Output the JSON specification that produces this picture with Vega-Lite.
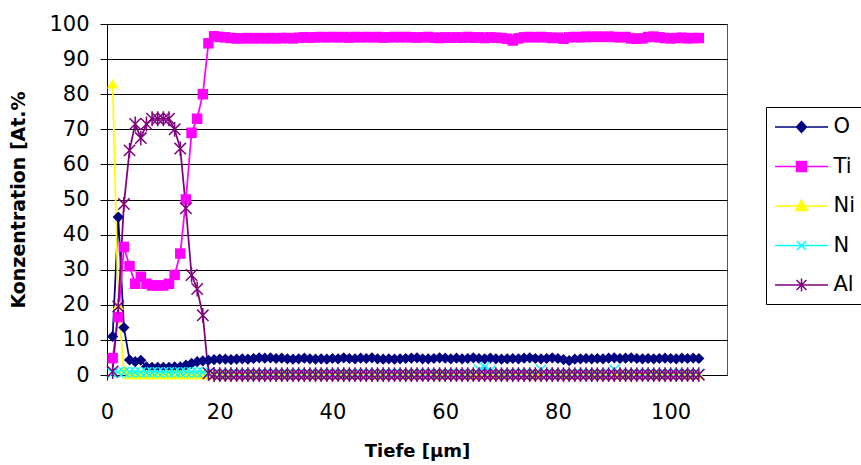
{
"$schema":"https://vega.github.io/schema/vega-lite/v6.json",
"width":620,"height":351,"autosize":"none",
"padding":{"left":107,"top":24,"right":134,"bottom":90},
"background":"white",
"config":{"view":{"stroke":"#555","strokeWidth":1},"font":"DejaVu Sans"},
"datasets":{"d":[
{"s":"O","x":1,"y":11},{"s":"O","x":2,"y":45},{"s":"O","x":3,"y":13.5},{"s":"O","x":4,"y":4.3},{"s":"O","x":5,"y":3.8},{"s":"O","x":6,"y":4.2},{"s":"O","x":7,"y":2.3},{"s":"O","x":8,"y":2.2},{"s":"O","x":9,"y":2.2},{"s":"O","x":10,"y":2.2},{"s":"O","x":11,"y":2.2},{"s":"O","x":12,"y":2.3},{"s":"O","x":13,"y":2.3},{"s":"O","x":14,"y":2.8},{"s":"O","x":15,"y":3.3},{"s":"O","x":16,"y":3.8},{"s":"O","x":17,"y":4.0},{"s":"O","x":18,"y":4.2},{"s":"O","x":19,"y":4.4},{"s":"O","x":20,"y":4.5},
{"s":"O","x":21,"y":4.5},{"s":"O","x":22,"y":4.4},{"s":"O","x":23,"y":4.5},{"s":"O","x":24,"y":4.6},{"s":"O","x":25,"y":4.5},{"s":"O","x":26,"y":4.7},{"s":"O","x":27,"y":4.9},{"s":"O","x":28,"y":4.8},{"s":"O","x":29,"y":4.9},{"s":"O","x":30,"y":4.7},{"s":"O","x":31,"y":4.8},{"s":"O","x":32,"y":4.6},{"s":"O","x":33,"y":4.5},{"s":"O","x":34,"y":4.6},{"s":"O","x":35,"y":4.8},{"s":"O","x":36,"y":4.6},{"s":"O","x":37,"y":4.5},{"s":"O","x":38,"y":4.6},{"s":"O","x":39,"y":4.5},{"s":"O","x":40,"y":4.7},
{"s":"O","x":41,"y":4.6},{"s":"O","x":42,"y":4.9},{"s":"O","x":43,"y":4.7},{"s":"O","x":44,"y":4.6},{"s":"O","x":45,"y":4.8},{"s":"O","x":46,"y":4.7},{"s":"O","x":47,"y":4.9},{"s":"O","x":48,"y":4.6},{"s":"O","x":49,"y":4.5},{"s":"O","x":50,"y":4.6},{"s":"O","x":51,"y":4.5},{"s":"O","x":52,"y":4.6},{"s":"O","x":53,"y":4.7},{"s":"O","x":54,"y":4.8},{"s":"O","x":55,"y":4.9},{"s":"O","x":56,"y":4.6},{"s":"O","x":57,"y":4.6},{"s":"O","x":58,"y":4.7},{"s":"O","x":59,"y":4.9},{"s":"O","x":60,"y":4.8},
{"s":"O","x":61,"y":4.6},{"s":"O","x":62,"y":4.8},{"s":"O","x":63,"y":4.6},{"s":"O","x":64,"y":4.7},{"s":"O","x":65,"y":4.9},{"s":"O","x":66,"y":4.7},{"s":"O","x":67,"y":4.6},{"s":"O","x":68,"y":4.8},{"s":"O","x":69,"y":4.6},{"s":"O","x":70,"y":4.5},{"s":"O","x":71,"y":4.6},{"s":"O","x":72,"y":4.7},{"s":"O","x":73,"y":4.6},{"s":"O","x":74,"y":4.8},{"s":"O","x":75,"y":4.9},{"s":"O","x":76,"y":4.7},{"s":"O","x":77,"y":4.6},{"s":"O","x":78,"y":4.7},{"s":"O","x":79,"y":4.9},{"s":"O","x":80,"y":4.7},
{"s":"O","x":81,"y":4.4},{"s":"O","x":82,"y":4.1},{"s":"O","x":83,"y":4.5},{"s":"O","x":84,"y":4.6},{"s":"O","x":85,"y":4.7},{"s":"O","x":86,"y":4.6},{"s":"O","x":87,"y":4.7},{"s":"O","x":88,"y":4.6},{"s":"O","x":89,"y":4.8},{"s":"O","x":90,"y":4.9},{"s":"O","x":91,"y":4.7},{"s":"O","x":92,"y":4.8},{"s":"O","x":93,"y":4.9},{"s":"O","x":94,"y":4.7},{"s":"O","x":95,"y":4.6},{"s":"O","x":96,"y":4.7},{"s":"O","x":97,"y":4.6},{"s":"O","x":98,"y":4.7},{"s":"O","x":99,"y":4.8},{"s":"O","x":100,"y":4.7},
{"s":"O","x":101,"y":4.6},{"s":"O","x":102,"y":4.8},{"s":"O","x":103,"y":4.7},{"s":"O","x":104,"y":4.8},{"s":"O","x":105,"y":4.7},
{"s":"Ti","x":1,"y":4.8},{"s":"Ti","x":2,"y":16.5},{"s":"Ti","x":3,"y":36.5},{"s":"Ti","x":4,"y":31},{"s":"Ti","x":5,"y":26},{"s":"Ti","x":6,"y":28},{"s":"Ti","x":7,"y":26},{"s":"Ti","x":8,"y":25.5},{"s":"Ti","x":9,"y":25.5},{"s":"Ti","x":10,"y":25.5},{"s":"Ti","x":11,"y":26},{"s":"Ti","x":12,"y":28.5},{"s":"Ti","x":13,"y":34.6},{"s":"Ti","x":14,"y":50},{"s":"Ti","x":15,"y":69},{"s":"Ti","x":16,"y":73},{"s":"Ti","x":17,"y":80},{"s":"Ti","x":18,"y":94.5},{"s":"Ti","x":19,"y":96.5},{"s":"Ti","x":20,"y":96.3},
{"s":"Ti","x":21,"y":96.2},{"s":"Ti","x":22,"y":96},{"s":"Ti","x":23,"y":95.9},{"s":"Ti","x":24,"y":95.9},{"s":"Ti","x":25,"y":96},{"s":"Ti","x":26,"y":95.9},{"s":"Ti","x":27,"y":96},{"s":"Ti","x":28,"y":95.9},{"s":"Ti","x":29,"y":96},{"s":"Ti","x":30,"y":95.9},{"s":"Ti","x":31,"y":96},{"s":"Ti","x":32,"y":96},{"s":"Ti","x":33,"y":95.9},{"s":"Ti","x":34,"y":96.1},{"s":"Ti","x":35,"y":96.2},{"s":"Ti","x":36,"y":96.1},{"s":"Ti","x":37,"y":96.2},{"s":"Ti","x":38,"y":96.3},{"s":"Ti","x":39,"y":96.2},{"s":"Ti","x":40,"y":96.3},
{"s":"Ti","x":41,"y":96.2},{"s":"Ti","x":42,"y":96.3},{"s":"Ti","x":43,"y":96.1},{"s":"Ti","x":44,"y":96.3},{"s":"Ti","x":45,"y":96.2},{"s":"Ti","x":46,"y":96.3},{"s":"Ti","x":47,"y":96.2},{"s":"Ti","x":48,"y":96.3},{"s":"Ti","x":49,"y":96.1},{"s":"Ti","x":50,"y":96.2},{"s":"Ti","x":51,"y":96.3},{"s":"Ti","x":52,"y":96.2},{"s":"Ti","x":53,"y":96.3},{"s":"Ti","x":54,"y":96.2},{"s":"Ti","x":55,"y":96.1},{"s":"Ti","x":56,"y":96.2},{"s":"Ti","x":57,"y":96.3},{"s":"Ti","x":58,"y":96.1},{"s":"Ti","x":59,"y":96},{"s":"Ti","x":60,"y":96.2},
{"s":"Ti","x":61,"y":96.1},{"s":"Ti","x":62,"y":96.2},{"s":"Ti","x":63,"y":96.1},{"s":"Ti","x":64,"y":96.3},{"s":"Ti","x":65,"y":96.1},{"s":"Ti","x":66,"y":96.2},{"s":"Ti","x":67,"y":96},{"s":"Ti","x":68,"y":96.2},{"s":"Ti","x":69,"y":96.1},{"s":"Ti","x":70,"y":96},{"s":"Ti","x":71,"y":95.8},{"s":"Ti","x":72,"y":95.3},{"s":"Ti","x":73,"y":95.9},{"s":"Ti","x":74,"y":96.2},{"s":"Ti","x":75,"y":96.3},{"s":"Ti","x":76,"y":96.2},{"s":"Ti","x":77,"y":96.3},{"s":"Ti","x":78,"y":96.2},{"s":"Ti","x":79,"y":96},{"s":"Ti","x":80,"y":96.1},
{"s":"Ti","x":81,"y":95.8},{"s":"Ti","x":82,"y":96.2},{"s":"Ti","x":83,"y":96.3},{"s":"Ti","x":84,"y":96.2},{"s":"Ti","x":85,"y":96.4},{"s":"Ti","x":86,"y":96.3},{"s":"Ti","x":87,"y":96.4},{"s":"Ti","x":88,"y":96.3},{"s":"Ti","x":89,"y":96.4},{"s":"Ti","x":90,"y":96.3},{"s":"Ti","x":91,"y":96.2},{"s":"Ti","x":92,"y":96.3},{"s":"Ti","x":93,"y":95.9},{"s":"Ti","x":94,"y":95.8},{"s":"Ti","x":95,"y":95.9},{"s":"Ti","x":96,"y":96.3},{"s":"Ti","x":97,"y":96.4},{"s":"Ti","x":98,"y":96.2},{"s":"Ti","x":99,"y":96},{"s":"Ti","x":100,"y":95.9},
{"s":"Ti","x":101,"y":96},{"s":"Ti","x":102,"y":96.1},{"s":"Ti","x":103,"y":95.9},{"s":"Ti","x":104,"y":96},{"s":"Ti","x":105,"y":96},
{"s":"Ni","x":1,"y":83},{"s":"Ni","x":2,"y":20},{"s":"Ni","x":3,"y":1.5},{"s":"Ni","x":4,"y":0.2},{"s":"Ni","x":5,"y":0.2},{"s":"Ni","x":6,"y":0.2},{"s":"Ni","x":7,"y":0.2},{"s":"Ni","x":8,"y":0.2},{"s":"Ni","x":9,"y":0.2},{"s":"Ni","x":10,"y":0.2},{"s":"Ni","x":11,"y":0.2},{"s":"Ni","x":12,"y":0.2},{"s":"Ni","x":13,"y":0.2},{"s":"Ni","x":14,"y":0.2},{"s":"Ni","x":15,"y":0.2},{"s":"Ni","x":16,"y":0.2},{"s":"Ni","x":17,"y":0.2},{"s":"Ni","x":18,"y":0.2},{"s":"Ni","x":19,"y":0.2},{"s":"Ni","x":20,"y":0.2},
{"s":"Ni","x":21,"y":0.2},{"s":"Ni","x":22,"y":0.2},{"s":"Ni","x":23,"y":0.2},{"s":"Ni","x":24,"y":0.2},{"s":"Ni","x":25,"y":0.2},{"s":"Ni","x":26,"y":0.2},{"s":"Ni","x":27,"y":0.2},{"s":"Ni","x":28,"y":0.2},{"s":"Ni","x":29,"y":0.2},{"s":"Ni","x":30,"y":0.2},{"s":"Ni","x":31,"y":0.2},{"s":"Ni","x":32,"y":0.2},{"s":"Ni","x":33,"y":0.2},{"s":"Ni","x":34,"y":0.2},{"s":"Ni","x":35,"y":0.2},{"s":"Ni","x":36,"y":0.2},{"s":"Ni","x":37,"y":0.2},{"s":"Ni","x":38,"y":0.2},{"s":"Ni","x":39,"y":0.2},{"s":"Ni","x":40,"y":0.2},
{"s":"Ni","x":41,"y":0.2},{"s":"Ni","x":42,"y":0.2},{"s":"Ni","x":43,"y":0.2},{"s":"Ni","x":44,"y":0.2},{"s":"Ni","x":45,"y":0.2},{"s":"Ni","x":46,"y":0.2},{"s":"Ni","x":47,"y":0.2},{"s":"Ni","x":48,"y":0.2},{"s":"Ni","x":49,"y":0.2},{"s":"Ni","x":50,"y":0.2},{"s":"Ni","x":51,"y":0.2},{"s":"Ni","x":52,"y":0.2},{"s":"Ni","x":53,"y":0.2},{"s":"Ni","x":54,"y":0.2},{"s":"Ni","x":55,"y":0.2},{"s":"Ni","x":56,"y":0.2},{"s":"Ni","x":57,"y":0.2},{"s":"Ni","x":58,"y":0.2},{"s":"Ni","x":59,"y":0.2},{"s":"Ni","x":60,"y":0.2},
{"s":"Ni","x":61,"y":0.2},{"s":"Ni","x":62,"y":0.2},{"s":"Ni","x":63,"y":0.2},{"s":"Ni","x":64,"y":0.2},{"s":"Ni","x":65,"y":0.2},{"s":"Ni","x":66,"y":0.2},{"s":"Ni","x":67,"y":0.2},{"s":"Ni","x":68,"y":0.2},{"s":"Ni","x":69,"y":0.2},{"s":"Ni","x":70,"y":0.2},{"s":"Ni","x":71,"y":0.2},{"s":"Ni","x":72,"y":0.2},{"s":"Ni","x":73,"y":0.2},{"s":"Ni","x":74,"y":0.2},{"s":"Ni","x":75,"y":0.2},{"s":"Ni","x":76,"y":0.2},{"s":"Ni","x":77,"y":0.2},{"s":"Ni","x":78,"y":0.2},{"s":"Ni","x":79,"y":0.2},{"s":"Ni","x":80,"y":0.2},
{"s":"Ni","x":81,"y":0.2},{"s":"Ni","x":82,"y":0.2},{"s":"Ni","x":83,"y":0.2},{"s":"Ni","x":84,"y":0.2},{"s":"Ni","x":85,"y":0.2},{"s":"Ni","x":86,"y":0.2},{"s":"Ni","x":87,"y":0.2},{"s":"Ni","x":88,"y":0.2},{"s":"Ni","x":89,"y":0.2},{"s":"Ni","x":90,"y":0.2},{"s":"Ni","x":91,"y":0.2},{"s":"Ni","x":92,"y":0.2},{"s":"Ni","x":93,"y":0.2},{"s":"Ni","x":94,"y":0.2},{"s":"Ni","x":95,"y":0.2},{"s":"Ni","x":96,"y":0.2},{"s":"Ni","x":97,"y":0.2},{"s":"Ni","x":98,"y":0.2},{"s":"Ni","x":99,"y":0.2},{"s":"Ni","x":100,"y":0.2},
{"s":"Ni","x":101,"y":0.2},{"s":"Ni","x":102,"y":0.2},{"s":"Ni","x":103,"y":0.2},{"s":"Ni","x":104,"y":0.2},{"s":"Ni","x":105,"y":0.2},
{"s":"N","x":1,"y":0.5},{"s":"N","x":2,"y":0.8},{"s":"N","x":3,"y":0.8},{"s":"N","x":4,"y":0.8},{"s":"N","x":5,"y":0.8},{"s":"N","x":6,"y":0.8},{"s":"N","x":7,"y":0.8},{"s":"N","x":8,"y":0.8},{"s":"N","x":9,"y":0.8},{"s":"N","x":10,"y":0.8},{"s":"N","x":11,"y":0.8},{"s":"N","x":12,"y":0.8},{"s":"N","x":13,"y":0.8},{"s":"N","x":14,"y":0.8},{"s":"N","x":15,"y":0.8},{"s":"N","x":16,"y":0.8},{"s":"N","x":17,"y":0.8},{"s":"N","x":18,"y":0.6},{"s":"N","x":19,"y":0.3},{"s":"N","x":20,"y":0.3},
{"s":"N","x":21,"y":0.3},{"s":"N","x":22,"y":0.3},{"s":"N","x":23,"y":0.3},{"s":"N","x":24,"y":0.3},{"s":"N","x":25,"y":0.3},{"s":"N","x":26,"y":0.3},{"s":"N","x":27,"y":0.3},{"s":"N","x":28,"y":0.3},{"s":"N","x":29,"y":0.3},{"s":"N","x":30,"y":0.3},{"s":"N","x":31,"y":0.3},{"s":"N","x":32,"y":0.3},{"s":"N","x":33,"y":0.3},{"s":"N","x":34,"y":0.3},{"s":"N","x":35,"y":0.3},{"s":"N","x":36,"y":0.3},{"s":"N","x":37,"y":0.3},{"s":"N","x":38,"y":0.3},{"s":"N","x":39,"y":0.3},{"s":"N","x":40,"y":0.3},
{"s":"N","x":41,"y":0.3},{"s":"N","x":42,"y":0.3},{"s":"N","x":43,"y":0.3},{"s":"N","x":44,"y":0.3},{"s":"N","x":45,"y":0.3},{"s":"N","x":46,"y":0.3},{"s":"N","x":47,"y":0.3},{"s":"N","x":48,"y":0.3},{"s":"N","x":49,"y":0.3},{"s":"N","x":50,"y":0.3},{"s":"N","x":51,"y":0.3},{"s":"N","x":52,"y":0.3},{"s":"N","x":53,"y":0.3},{"s":"N","x":54,"y":0.3},{"s":"N","x":55,"y":0.3},{"s":"N","x":56,"y":0.3},{"s":"N","x":57,"y":0.3},{"s":"N","x":58,"y":0.3},{"s":"N","x":59,"y":0.3},{"s":"N","x":60,"y":0.3},
{"s":"N","x":61,"y":0.3},{"s":"N","x":62,"y":0.3},{"s":"N","x":63,"y":0.3},{"s":"N","x":64,"y":0.3},{"s":"N","x":65,"y":0.3},{"s":"N","x":66,"y":1.5},{"s":"N","x":67,"y":2.3},{"s":"N","x":68,"y":1.2},{"s":"N","x":69,"y":0.3},{"s":"N","x":70,"y":0.3},{"s":"N","x":71,"y":0.3},{"s":"N","x":72,"y":0.3},{"s":"N","x":73,"y":0.3},{"s":"N","x":74,"y":0.3},{"s":"N","x":75,"y":0.3},{"s":"N","x":76,"y":0.3},{"s":"N","x":77,"y":1.5},{"s":"N","x":78,"y":0.3},{"s":"N","x":79,"y":0.3},{"s":"N","x":80,"y":0.3},
{"s":"N","x":81,"y":0.3},{"s":"N","x":82,"y":0.3},{"s":"N","x":83,"y":0.3},{"s":"N","x":84,"y":0.3},{"s":"N","x":85,"y":0.3},{"s":"N","x":86,"y":0.3},{"s":"N","x":87,"y":0.3},{"s":"N","x":88,"y":0.3},{"s":"N","x":89,"y":0.3},{"s":"N","x":90,"y":1.5},{"s":"N","x":91,"y":0.3},{"s":"N","x":92,"y":0.3},{"s":"N","x":93,"y":0.3},{"s":"N","x":94,"y":0.3},{"s":"N","x":95,"y":0.3},{"s":"N","x":96,"y":0.3},{"s":"N","x":97,"y":0.3},{"s":"N","x":98,"y":0.3},{"s":"N","x":99,"y":0.3},{"s":"N","x":100,"y":0.3},
{"s":"N","x":101,"y":0.3},{"s":"N","x":102,"y":0.3},{"s":"N","x":103,"y":0.3},{"s":"N","x":104,"y":0.3},{"s":"N","x":105,"y":0.3},
{"s":"Al","x":1,"y":1},{"s":"Al","x":2,"y":19.5},{"s":"Al","x":3,"y":48.7},{"s":"Al","x":4,"y":64},{"s":"Al","x":5,"y":71.5},{"s":"Al","x":6,"y":67.5},{"s":"Al","x":7,"y":71.5},{"s":"Al","x":8,"y":73},{"s":"Al","x":9,"y":73},{"s":"Al","x":10,"y":73},{"s":"Al","x":11,"y":73},{"s":"Al","x":12,"y":70},{"s":"Al","x":13,"y":64.5},{"s":"Al","x":14,"y":47.5},{"s":"Al","x":15,"y":28.5},{"s":"Al","x":16,"y":24.5},{"s":"Al","x":17,"y":17},{"s":"Al","x":18,"y":0.5},{"s":"Al","x":19,"y":0.1},{"s":"Al","x":20,"y":0.1},
{"s":"Al","x":21,"y":0.1},{"s":"Al","x":22,"y":0.1},{"s":"Al","x":23,"y":0.1},{"s":"Al","x":24,"y":0.1},{"s":"Al","x":25,"y":0.1},{"s":"Al","x":26,"y":0.1},{"s":"Al","x":27,"y":0.1},{"s":"Al","x":28,"y":0.1},{"s":"Al","x":29,"y":0.1},{"s":"Al","x":30,"y":0.1},{"s":"Al","x":31,"y":0.1},{"s":"Al","x":32,"y":0.1},{"s":"Al","x":33,"y":0.1},{"s":"Al","x":34,"y":0.1},{"s":"Al","x":35,"y":0.1},{"s":"Al","x":36,"y":0.1},{"s":"Al","x":37,"y":0.1},{"s":"Al","x":38,"y":0.1},{"s":"Al","x":39,"y":0.1},{"s":"Al","x":40,"y":0.1},
{"s":"Al","x":41,"y":0.1},{"s":"Al","x":42,"y":0.1},{"s":"Al","x":43,"y":0.1},{"s":"Al","x":44,"y":0.1},{"s":"Al","x":45,"y":0.1},{"s":"Al","x":46,"y":0.1},{"s":"Al","x":47,"y":0.1},{"s":"Al","x":48,"y":0.1},{"s":"Al","x":49,"y":0.1},{"s":"Al","x":50,"y":0.1},{"s":"Al","x":51,"y":0.1},{"s":"Al","x":52,"y":0.1},{"s":"Al","x":53,"y":0.1},{"s":"Al","x":54,"y":0.1},{"s":"Al","x":55,"y":0.1},{"s":"Al","x":56,"y":0.1},{"s":"Al","x":57,"y":0.1},{"s":"Al","x":58,"y":0.1},{"s":"Al","x":59,"y":0.1},{"s":"Al","x":60,"y":0.1},
{"s":"Al","x":61,"y":0.1},{"s":"Al","x":62,"y":0.1},{"s":"Al","x":63,"y":0.1},{"s":"Al","x":64,"y":0.1},{"s":"Al","x":65,"y":0.1},{"s":"Al","x":66,"y":0.1},{"s":"Al","x":67,"y":0.1},{"s":"Al","x":68,"y":0.1},{"s":"Al","x":69,"y":0.1},{"s":"Al","x":70,"y":0.1},{"s":"Al","x":71,"y":0.1},{"s":"Al","x":72,"y":0.1},{"s":"Al","x":73,"y":0.1},{"s":"Al","x":74,"y":0.1},{"s":"Al","x":75,"y":0.1},{"s":"Al","x":76,"y":0.1},{"s":"Al","x":77,"y":0.1},{"s":"Al","x":78,"y":0.1},{"s":"Al","x":79,"y":0.1},{"s":"Al","x":80,"y":0.1},
{"s":"Al","x":81,"y":0.1},{"s":"Al","x":82,"y":0.1},{"s":"Al","x":83,"y":0.1},{"s":"Al","x":84,"y":0.1},{"s":"Al","x":85,"y":0.1},{"s":"Al","x":86,"y":0.1},{"s":"Al","x":87,"y":0.1},{"s":"Al","x":88,"y":0.1},{"s":"Al","x":89,"y":0.1},{"s":"Al","x":90,"y":0.1},{"s":"Al","x":91,"y":0.1},{"s":"Al","x":92,"y":0.1},{"s":"Al","x":93,"y":0.1},{"s":"Al","x":94,"y":0.1},{"s":"Al","x":95,"y":0.1},{"s":"Al","x":96,"y":0.1},{"s":"Al","x":97,"y":0.1},{"s":"Al","x":98,"y":0.1},{"s":"Al","x":99,"y":0.1},{"s":"Al","x":100,"y":0.1},
{"s":"Al","x":101,"y":0.1},{"s":"Al","x":102,"y":0.1},{"s":"Al","x":103,"y":0.1},{"s":"Al","x":104,"y":0.1},{"s":"Al","x":105,"y":0.1}
]},
"data":{"name":"d"},
"encoding":{
"x":{"field":"x","type":"quantitative","scale":{"domain":[0,110],"nice":false,"zero":true},
 "axis":{"title":"Tiefe [µm]","values":[0,20,40,60,80,100],"grid":false,"labelFlush":false,"domainColor":"#000","domainWidth":1,"tickColor":"#000","tickSize":5,"labelFontSize":21,"labelFont":"DejaVu Sans","labelColor":"#000","labelPadding":21,"titleFont":"DejaVu Sans","titleFontSize":18,"titleFontWeight":"bold","titleColor":"#000","titlePadding":20}},
"y":{"field":"y","type":"quantitative","scale":{"domain":[0,100],"nice":false},
 "axis":{"title":"Konzentration [At.%","values":[0,10,20,30,40,50,60,70,80,90,100],"grid":true,"labelFlush":false,"gridColor":"#000","gridWidth":1,"domainColor":"#000","domainWidth":1,"tickColor":"#000","tickSize":7,"labelFontSize":21,"labelFont":"DejaVu Sans","labelColor":"#000","labelPadding":11,"titleFont":"DejaVu Sans","titleFontSize":19,"titleFontWeight":"bold","titleColor":"#000","titlePadding":20}},
"color":{"field":"s","type":"nominal","scale":{"domain":["O","Ti","Ni","N","Al"],"range":["#000080","#FF00FF","#FFFF00","#00FFFF","#800080"]},
 "legend":{"orient":"none","legendX":659,"legendY":83,"title":null,"symbolSize":400,"symbolStrokeWidth":1.5,"labelFontSize":21,"labelFont":"DejaVu Sans","labelColor":"#000","labelLimit":300,"padding":9,"symbolOffset":15.5,"labelOffset":21,"rowPadding":18.5,"strokeColor":"#000","fillColor":"#fff",
  "encode":{
   "labels":{"update":{"text":{"signal":"datum.label + '\u00a0\u00a0\u00a0\u00a0\u00a0\u00a0'"}}},
   "symbols":{"update":{
   "shape":{"signal":"datum.value === 'O' ? 'M-2.65,0L2.65,0M0,-0.55L0.5,0L0,0.55L-0.5,0Z' : datum.value === 'Ti' ? 'M-2.65,0L2.65,0M-0.5,-0.5L0.5,-0.5L0.5,0.5L-0.5,0.5Z' : datum.value === 'Ni' ? 'M-2.65,0L2.65,0M0,-0.6L0.58,0.45L-0.58,0.45Z' : datum.value === 'N' ? 'M-2.65,0L2.65,0M-0.45,-0.45L0.45,0.45M-0.45,0.45L0.45,-0.45' : 'M-2.65,0L2.65,0M-0.5,-0.5L0.5,0.5M-0.5,0.5L0.5,-0.5M0,-0.65L0,0.65'"},
   "fill":{"signal":"scale('color', datum.value)"},
   "stroke":{"signal":"scale('color', datum.value)"},
   "strokeWidth":{"value":1.5},"size":{"value":400},"opacity":{"value":1},"fillOpacity":{"value":1},"strokeOpacity":{"value":1}}}}}}
},
"layer":[
{"mark":{"type":"line","strokeWidth":1.75}},
{"transform":[{"filter":{"field":"s","equal":"O"}}],"mark":{"type":"point","shape":"diamond","filled":true,"size":125,"opacity":1}},
{"transform":[{"filter":{"field":"s","equal":"Ti"}}],"mark":{"type":"point","shape":"square","filled":true,"size":110,"opacity":1}},
{"transform":[{"filter":{"field":"s","equal":"Ni"}}],"mark":{"type":"point","shape":"triangle-up","filled":true,"size":130,"opacity":1}},
{"transform":[{"filter":{"field":"s","equal":"N"}}],"mark":{"type":"point","shape":"M-1,-1L1,1M-1,1L1,-1","filled":false,"size":100,"strokeWidth":1.5,"opacity":1}},
{"transform":[{"filter":{"field":"s","equal":"Al"}}],"mark":{"type":"point","shape":"M-1,-1L1,1M-1,1L1,-1M0,-1.3L0,1.3","filled":false,"size":130,"strokeWidth":1.5,"opacity":1}}
]
}
